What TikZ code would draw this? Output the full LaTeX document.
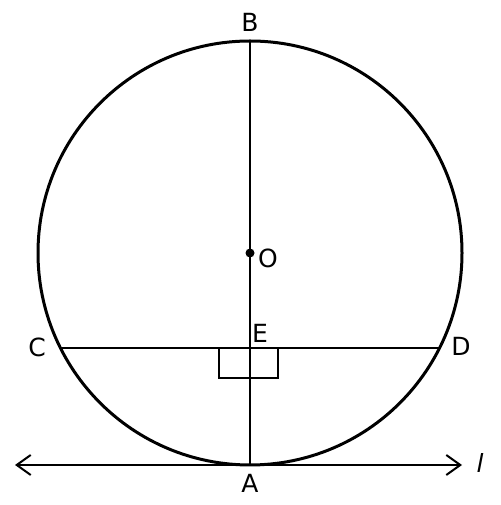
\documentclass[tikz,border=0pt]{standalone}
\usepackage{fontspec}
\setmainfont{DejaVu Sans}
\usetikzlibrary{arrows.meta}

\begin{document}
\begin{tikzpicture}[x=1pt, y=1pt, font=\fontsize{25}{30}\selectfont]
    \useasboundingbox (0, 0) rectangle (500, 505);

    \coordinate (O) at (250, 252);
    \coordinate (A) at (250, 40);
    \coordinate (B) at (250, 464);
    \coordinate (E) at (250, 157);
    \coordinate (C) at (60.5, 157);
    \coordinate (D) at (439.5, 157);
    \coordinate (L1) at (15, 40);
    \coordinate (L2) at (462, 40);

    \draw [line width=3pt] (O) circle (212);
    \draw [line width=2.4pt] (A) -- (B);
    \draw [line width=2pt] (C) -- (D);
    \draw [line width=2pt, {Straight Barb[length=14pt, width=20pt]}-{Straight Barb[length=14pt, width=20pt]}] (L1) -- (L2);

    \draw [line width=1.8pt] (219, 127) rectangle (E);
    \draw [line width=1.8pt] (E) rectangle (278, 127);

    \fill (O) circle (4.5);

    \node at (250, 483) {B};
    \node at (268, 247) {O};
    \node at (260, 172) {E};
    \node at (37, 158) {C};
    \node at (461, 159) {D};
    \node at (250, 22) {A};
    \node at (480, 42) {\itshape l};
\end{tikzpicture}
\end{document}
